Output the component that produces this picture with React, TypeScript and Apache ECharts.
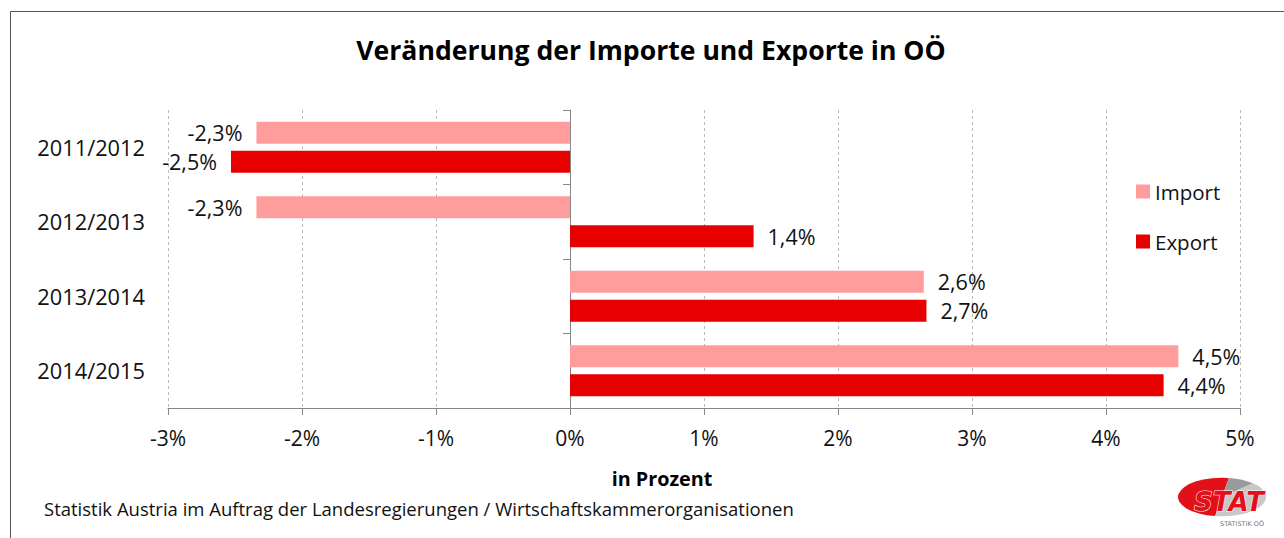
import React, { useEffect, useRef } from "react";
import * as echarts from "echarts";

const categories = ["2011/2012", "2012/2013", "2013/2014", "2014/2015"];
const importValues = [-2.34, -2.34, 2.64, 4.54];
const exportValues = [-2.53, 1.37, 2.66, 4.43];
const xTicks = { min: -3, max: 5, interval: 1 };

const FONT = "'Open Sans', Lato, sans-serif";
const IMPORT_COLOR = "#FF9C9C";
const EXPORT_COLOR = "#E60000";

const fmt = (v: number) => v.toFixed(1).replace(".", ",") + "%";

const labelFor = (v: number) => ({
  show: true,
  position: v < 0 ? "left" : "right",
  distance: 14,
  formatter: () => fmt(v),
  color: "#111",
  fontSize: 21.5,
  fontFamily: FONT,
});

export default function App() {
  const ref = useRef<HTMLDivElement>(null);
  useEffect(() => {
    const chart = echarts.init(ref.current!, null, { renderer: "svg" });
    chart.setOption({
      animation: false,
      backgroundColor: "#fff",
      grid: { left: 168, right: 44, top: 110, bottom: 130 },
      legend: {
        orient: "vertical",
        left: 1131,
        top: 176,
        itemWidth: 14,
        itemHeight: 14,
        itemGap: 29,
        icon: "rect",
        textStyle: { fontSize: 20.5, fontFamily: FONT, color: "#111" },
        data: ["Import", "Export"],
      },
      xAxis: {
        type: "value",
        min: xTicks.min,
        max: xTicks.max,
        interval: xTicks.interval,
        axisLine: { show: true, onZero: false, lineStyle: { color: "#888" } },
        axisTick: { show: true, length: 7, lineStyle: { color: "#888" } },
        axisLabel: {
          formatter: (v: number) => `${v}%`,
          fontSize: 21,
          fontFamily: FONT,
          color: "#111",
          margin: 19,
        },
        splitLine: { show: true, lineStyle: { color: "#BBB", type: [3, 3] } },
      },
      yAxis: [
        {
          type: "category",
          data: categories,
          inverse: true,
          axisLine: { show: false, onZero: false },
          axisTick: { show: false },
          axisLabel: { fontSize: 21.8, fontFamily: FONT, color: "#111", margin: 23 },
        },
        {
          type: "category",
          data: categories,
          inverse: true,
          position: "left",
          axisLine: { show: true, onZero: true, lineStyle: { color: "#888" } },
          axisTick: { show: true, length: 7, lineStyle: { color: "#888" } },
          axisLabel: { show: false },
        },
      ],
      series: [
        {
          name: "Import",
          type: "bar",
          yAxisIndex: 0,
          barWidth: 22,
          barGap: "32%",
          itemStyle: { color: IMPORT_COLOR },
          data: importValues.map((v) => ({ value: v, label: labelFor(v) })),
        },
        {
          name: "Export",
          type: "bar",
          yAxisIndex: 0,
          barWidth: 22,
          barGap: "32%",
          itemStyle: { color: EXPORT_COLOR },
          data: exportValues.map((v) => ({ value: v, label: labelFor(v) })),
        },
      ],
      graphic: [
        { type: "line", shape: { x1: 10.5, y1: 11.5, x2: 1284, y2: 11.5 }, style: { stroke: "#555", lineWidth: 1 } },
        { type: "line", shape: { x1: 10.5, y1: 11.5, x2: 10.5, y2: 538 }, style: { stroke: "#555", lineWidth: 1 } },
        {
          type: "text",
          x: 651,
          y: 50,
          style: {
            text: "Veränderung der Importe und Exporte in OÖ",
            font: `bold 26.6px ${FONT}`,
            fill: "#000",
            textAlign: "center",
            textVerticalAlign: "middle",
          },
        },
        {
          type: "text",
          x: 662,
          y: 478,
          style: {
            text: "in Prozent",
            font: `bold 19.8px ${FONT}`,
            fill: "#000",
            textAlign: "center",
            textVerticalAlign: "middle",
          },
        },
        {
          type: "text",
          x: 44,
          y: 508,
          style: {
            text: "Statistik Austria im Auftrag der Landesregierungen / Wirtschaftskammerorganisationen",
            font: `18.5px ${FONT}`,
            fill: "#111",
            textAlign: "left",
            textVerticalAlign: "middle",
          },
        },
        {
          type: "group",
          x: 1222,
          y: 497,
          scaleY: 0.44,
          children: [
            { type: "sector", shape: { cx: 0, cy: 0, r: 44, startAngle: Math.PI * 0.55, endAngle: Math.PI * 1.55 }, style: { fill: "#E3101A" } },
            { type: "sector", shape: { cx: 0, cy: 0, r: 44, startAngle: Math.PI * 1.55, endAngle: Math.PI * 1.75 }, style: { fill: "#9A9A9A" } },
            { type: "sector", shape: { cx: 0, cy: 0, r: 44, startAngle: Math.PI * 1.75, endAngle: Math.PI * 2.55 }, style: { fill: "#C8C8C8" } },
          ],
        },
        {
          type: "text",
          x: 1229,
          y: 502,
          style: {
            text: "STAT",
            font: `italic bold 26px 'DejaVu Sans', sans-serif`,
            fill: "#E3101A",
            stroke: "#fff",
            lineWidth: 1,
            textAlign: "center",
            textVerticalAlign: "middle",
          },
        },
        {
          type: "text",
          x: 1242,
          y: 524,
          style: {
            text: "STATISTIK OÖ",
            font: `6.5px 'DejaVu Sans', sans-serif`,
            fill: "#777",
            textAlign: "center",
            textVerticalAlign: "middle",
          },
        },
      ],
    });
    return () => chart.dispose();
  }, []);
  return (
    <div
      ref={ref}
      style={{ position: "fixed", left: 0, top: 0, width: 1284, height: 538 }}
    />
  );
}
